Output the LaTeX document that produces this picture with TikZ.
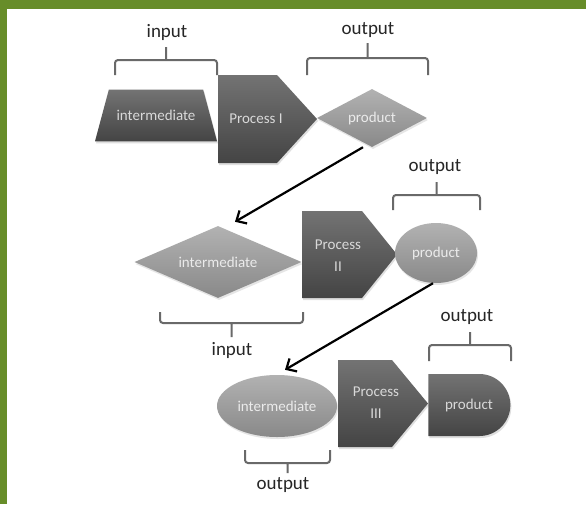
\documentclass[tikz,border=0pt]{standalone}
\usepackage{fontspec}
\setmainfont{Carlito}
\usetikzlibrary{shapes.geometric,shapes.misc,arrows.meta,shadows}

\definecolor{leafgreen}{RGB}{103,141,41}
\definecolor{darkfill}{RGB}{80,80,80}
\definecolor{lightfill}{RGB}{152,152,152}
\definecolor{bracegray}{RGB}{105,105,105}

\def\labelfont{\fontsize{19}{21}\selectfont}
\def\boxfont{\fontsize{15}{22}\selectfont}

\begin{document}
\begin{tikzpicture}[x=1pt,y=-1pt,>={Straight Barb[length=8pt,width=15pt]}]
    \tikzstyle{darkshape}=[top color=darkfill!80!white, bottom color=darkfill!85!black, text=white!85!black, font=\boxfont, inner sep=0pt, drop shadow={opacity=0.25,shadow xshift=1pt,shadow yshift=-2pt}]
    \tikzstyle{lightshape}=[top color=lightfill!75!white, bottom color=lightfill!90!black, text=white!92!black, font=\boxfont, inner sep=0pt, drop shadow={opacity=0.2,shadow xshift=1pt,shadow yshift=-2pt}]
    \tikzstyle{boxtext}=[font=\boxfont, text=white!85!black, align=center]
    \tikzstyle{annot}=[font=\labelfont, text=black!85]
    \tikzstyle{brace}=[draw=bracegray, line width=2pt, rounded corners=3pt]
    \tikzstyle{flow}=[->, line width=2.2pt, black]

    % Frame of the slide
    \useasboundingbox (0,0) rectangle (586,504);
    \fill[leafgreen] (0,0) rectangle (586,504);
    \fill[white] (7,9) rectangle (586,504);

    % Draw the process arrows (left, end of body, tip, top, bottom)
    \foreach \xl/\xs/\xt/\yt/\yb in {218/277/317/75/163, 302/362/397/211/298, 338/392/428/360/447}
        \path[darkshape] (\xl,\yt) -- (\xs,\yt) -- (\xt,\yt/2+\yb/2) -- (\xs,\yb) -- (\xl,\yb) -- cycle;

    % Draw the first step
    \node[darkshape, trapezium, trapezium stretches body=true, trapezium left angle=75,
          trapezium right angle=75, inner xsep=0pt, inner ysep=20.5pt, minimum width=122pt] (int1) at (156,115.5) {intermediate};
    \node[boxtext] (proc1) at (256,119) {Process I};
    \node[lightshape, diamond, aspect=1.9, minimum width=110pt, minimum height=58pt] (prod1) at (372,118) {product};

    % Draw the second step
    \node[lightshape, diamond, aspect=2.3, minimum width=167pt, minimum height=72pt] (int2) at (218,262) {intermediate};
    \node[boxtext] (proc2) at (338,256) {Process\\II};
    \node[lightshape, ellipse, minimum width=82pt, minimum height=60pt] (prod2) at (436,253) {product};

    % Draw the third step
    \node[lightshape, ellipse, minimum width=120pt, minimum height=62pt] (int3) at (277,406) {intermediate};
    \node[boxtext] (proc3) at (376,403) {Process\\III};
    \node[darkshape, rounded rectangle, rounded rectangle left arc=none,
          minimum width=82pt, minimum height=62pt] (prod3) at (469,405) {product};

    % The product of one step is the intermediate of the next
    \draw[flow] ([xshift=-9pt]prod1.south) -- ([xshift=17pt,yshift=4pt]int2.north);
    \draw[flow] ([xshift=-3pt]prod2.south) -- ([xshift=8pt,yshift=5pt]int3.north);

    % Braces
    \foreach \xa/\xb/\yh/\ye/\yt in {115/217/60/75/47, 307/428/58/75/43, 393/480/195/210/182,
                                     429/511/345/361/332, 160/303/323/312/337, 245/330/463/450/473}
        \draw[brace] (\xa,\ye) -- (\xa,\yh) -- (\xb,\yh) -- (\xb,\ye)
                     (\xa/2+\xb/2,\yh) -- (\xa/2+\xb/2,\yt);

    % Annotate the braces
    \node[annot] (in1) at (167,32) {input};
    \node[annot] (out1) at (368,30) {output};
    \node[annot] (out2) at (435,167) {output};
    \node[annot] (in2) at (232,350) {input};
    \node[annot] (out3) at (467,317) {output};
    \node[annot] (out4) at (283,485) {output};
\end{tikzpicture}
\end{document}
